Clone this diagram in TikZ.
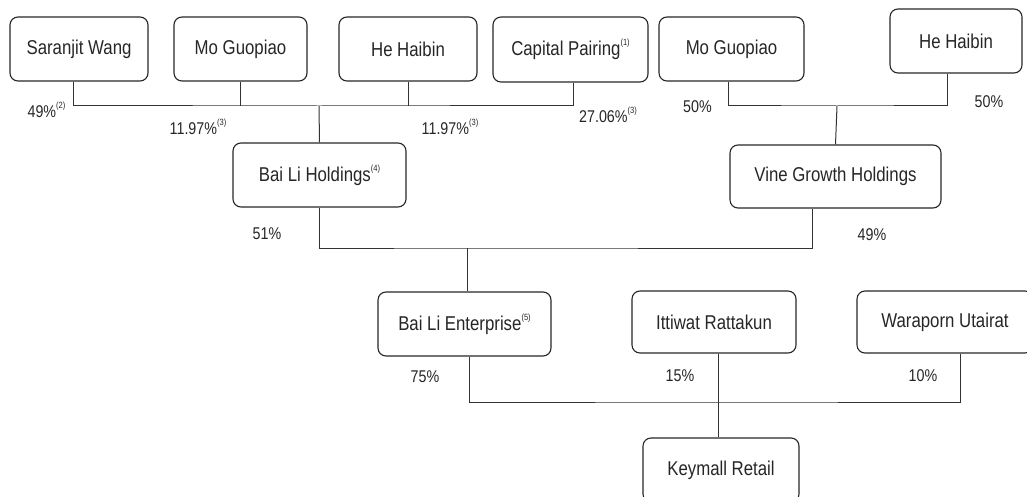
\documentclass[tikz,border=0pt]{standalone}
\usepackage{fontspec}
\setmainfont[FakeStretch=0.84]{Liberation Sans}
\newcommand\supnote[1]{\raisebox{0.5em}{\fontsize{9}{9}\selectfont(#1)}}
\begin{document}
\begin{tikzpicture}[x=1pt,y=-1pt,
    box/.style={draw=black!85,line width=1.1pt,rounded corners=8pt,inner sep=0pt,
      text=black!85,font=\fontsize{20}{22}\selectfont},
    pct/.style={inner sep=0pt,text=black!85,font=\fontsize{17}{19}\selectfont},
    link/.style={draw=black!80,line width=1pt}]
  \useasboundingbox (0,0) rectangle (1027,497);
  % shareholders, top row
  \node[box,minimum width=138pt,minimum height=64pt] (SW)  at (79,49)    {Saranjit Wang};
  \node[box,minimum width=133pt,minimum height=64pt] (MG1) at (240.5,49) {Mo Guopiao};
  \node[box,minimum width=138pt,minimum height=64pt] (HH1) at (408,49)   {He Haibin};
  \node[box,minimum width=155pt,minimum height=65pt] (CP)  at (570.5,49.5) {Capital Pairing\supnote{1}};
  \node[box,minimum width=145pt,minimum height=64pt] (MG2) at (731.5,49) {Mo Guopiao};
  \node[box,minimum width=132pt,minimum height=64pt] (HH2) at (956,41)   {He Haibin};
  % holdings
  \node[box,minimum width=173pt,minimum height=64pt] (BLH) at (319.5,175) {Bai Li Holdings\supnote{4}};
  \node[box,minimum width=211pt,minimum height=63pt] (VG)  at (835.5,176.5) {Vine Growth Holdings};
  % bottom
  \node[box,minimum width=173pt,minimum height=64pt] (BLE) at (464.5,324) {Bai Li Enterprise\supnote{5}};
  \node[box,minimum width=164pt,minimum height=62pt] (IR)  at (714,322)  {Ittiwat Rattakun};
  \node[box,minimum width=176pt,minimum height=62pt] (WU)  at (945,322)  {Waraporn Utairat};
  \node[box,minimum width=156pt,minimum height=64pt] (KR)  at (721,470)  {Keymall Retail};
  % junctions
  \coordinate (busA) at (319,106);
  \coordinate (busB) at (837,106);
  \coordinate (busC) at (467,248);
  \coordinate (busD) at (718,402);
  % connectors
  \draw[link] ([xshift=-6pt]SW.south) |- (busA) -| ([xshift=2.5pt]CP.south);
  \draw[link] (MG1.south) -- (MG1.south |- busA);
  \draw[link] (HH1.south) -- (HH1.south |- busA);
  \draw[link] (busA) -- (BLH.north);
  \draw[link] ([xshift=-3.5pt]MG2.south) |- (busB) -| ([xshift=-9pt]HH2.south);
  \draw[link] (busB) -- (VG.north);
  \draw[link] (BLH.south) |- (busC) -| ([xshift=-23.5pt]VG.south);
  \draw[link] (busC) -- (BLE.north -| busC);
  \draw[link] (BLE.south -| 469,0) |- (busD) -| ([xshift=15pt]WU.south);
  \draw[link] (IR.south -| busD) -- (KR.north -| busD);
  % percentages
  \node[pct] (p1)  at (46.5,110) {49\%\supnote{2}};
  \node[pct] (p2)  at (198,127)  {11.97\%\supnote{3}};
  \node[pct] (p3)  at (450,127)  {11.97\%\supnote{3}};
  \node[pct] (p4)  at (608,115)  {27.06\%\supnote{3}};
  \node[pct] (p5)  at (697.5,107) {50\%};
  \node[pct] (p6)  at (989,102)  {50\%};
  \node[pct] (p7)  at (267,234)  {51\%};
  \node[pct] (p8)  at (872,235)  {49\%};
  \node[pct] (p9)  at (425,377)  {75\%};
  \node[pct] (p10) at (680,376)  {15\%};
  \node[pct] (p11) at (923,376)  {10\%};
\end{tikzpicture}
\end{document}
